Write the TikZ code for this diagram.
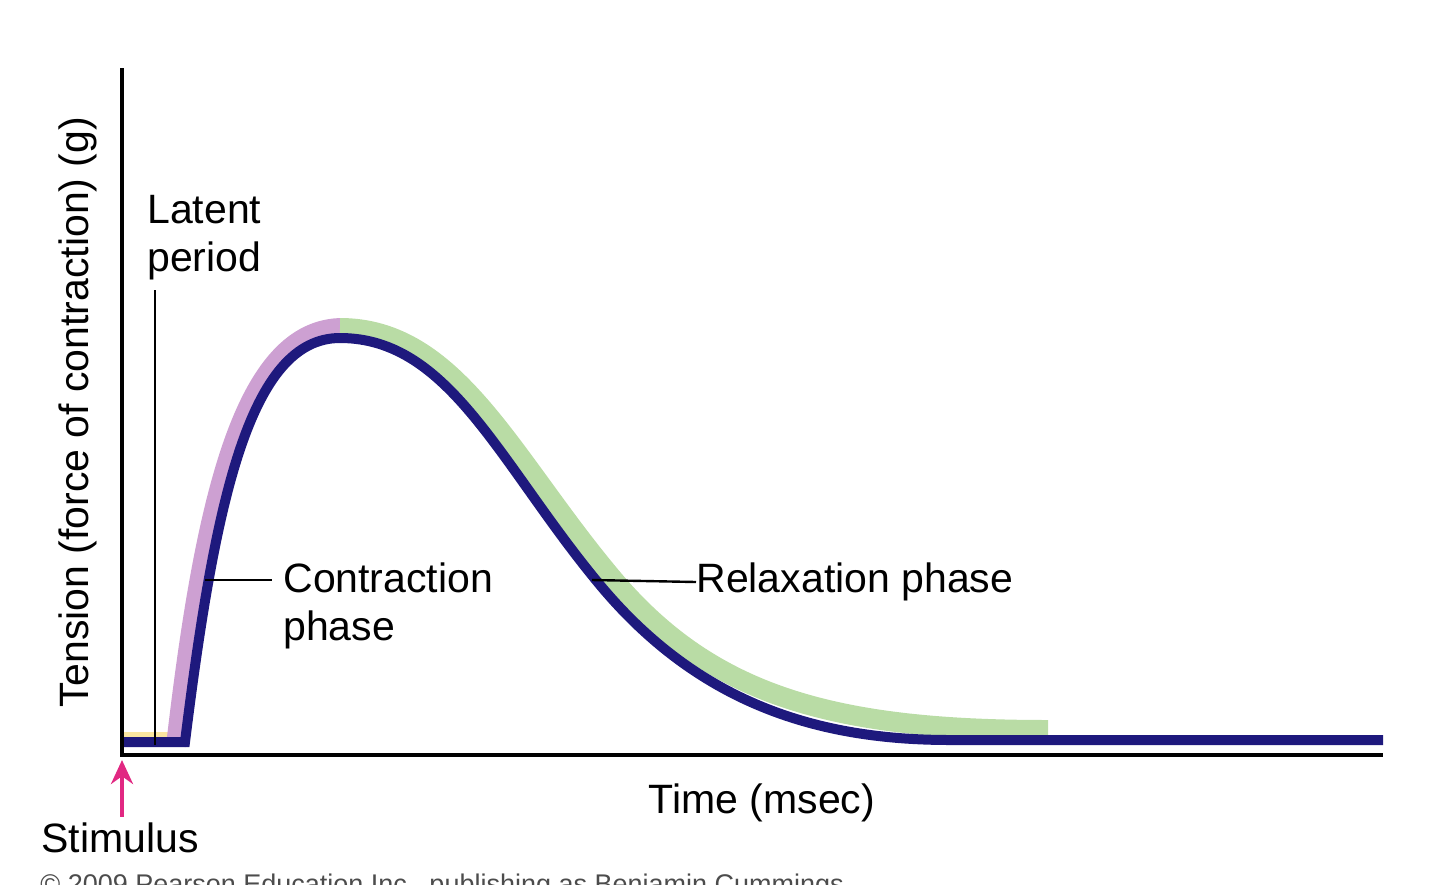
\documentclass[tikz,border=0pt]{standalone}
\usepackage{fontspec}
\setmainfont{Liberation Sans}
\usetikzlibrary{arrows.meta}
\begin{document}
\begin{tikzpicture}[x=0.5pt,y=-0.5pt,
  lbl/.style={font=\fontsize{20.5}{24}\selectfont, inner sep=0pt},
  ax/.style={line width=2pt, black}]
\useasboundingbox (0,0) rectangle (1440,884);
\definecolor{navy}{RGB}{30,25,125}
\definecolor{lpurp}{RGB}{205,160,210}
\definecolor{lgreen}{RGB}{185,220,165}
\definecolor{lyel}{RGB}{250,230,160}
\definecolor{mag}{RGB}{225,40,130}
% highlights
\fill[lyel] (122,732) rectangle (176,745);
\draw[lpurp, line width=10pt] (176,746) .. controls (205,495) and (245,328) .. (343,328);
\draw[lgreen, line width=10pt] (340,328) .. controls (455,328) and (510,455) .. (608,573) .. controls (708,695) and (830,730) .. (1048,730);
% curve
\draw[navy, line width=5pt] (122,742) -- (185,742) .. controls (215,500) and (250,338) .. (340,338) .. controls (450,338) and (500,465) .. (600,585) .. controls (700,705) and (820,740) .. (950,740) -- (1383,740);
% axes
\draw[ax] (122,68) -- (122,755) -- (1383,755);
% latent
\coordinate (lt) at (155,290);
\coordinate (lb) at (155,745);
\draw[line width=1.2pt] (lt) -- (lb);
\node[lbl, anchor=north west, align=left] (latent) at (147,195) {Latent\\period};
% contraction
\coordinate (cp) at (205,580);
\node[lbl, anchor=west, align=left] (contr) at (283,606) {Contraction\\phase};
\draw[line width=1.2pt] (cp) -- (272,580);
\coordinate (rp) at (592,580);
\node[lbl, anchor=west] (relax) at (696,582) {Relaxation phase};
\draw[line width=1.2pt] (rp) -- (relax.west);
% labels
\node[lbl] (time) at (762,803) {Time (msec)};
\node[lbl, rotate=90] (ylab) at (78,412) {Tension (force of contraction) (g)};
\node[lbl] (stim) at (120,838) {Stimulus};
\coordinate (sa) at (122,760);
\draw[mag, line width=2pt, -{Stealth[length=12pt,width=11pt]}] (stim.north -| sa) ++(0,-6) -- (sa);
\node[anchor=west, text=black!70, font=\fontsize{13.5}{16}\selectfont, inner sep=0pt] (copy) at (40,887) {\textcopyright\ 2009 Pearson Education Inc., publishing as Benjamin Cummings};
\end{tikzpicture}
\end{document}
